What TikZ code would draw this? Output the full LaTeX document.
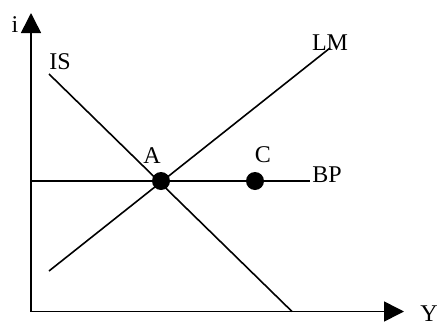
\documentclass[tikz,border=0pt]{standalone}
\usepackage{fontspec}
\setmainfont{Liberation Serif}
\usetikzlibrary{arrows.meta}
\begin{document}
\begin{tikzpicture}[x=1pt,y=-1pt,
  ln/.style={line width=1.6pt},
  axis/.style={line width=1.6pt,-{Triangle[width=20pt,length=20pt]}},
  dot/.style={circle,fill=black,inner sep=0pt,minimum size=18pt},
  lbl/.style={anchor=base,inner sep=0pt,font=\fontsize{24}{26}\selectfont}]
\useasboundingbox (0,0) rectangle (442,327);
% axes
\coordinate (O) at (31,311.5);
\coordinate (ytop) at (31,13);
\coordinate (xend) at (404,311.5);
\draw[axis] (O) -- (ytop);
\draw[axis] (O) -- (xend);
% curves
\coordinate (is1) at (49,74);
\coordinate (is2) at (292,311.5);
\coordinate (lm1) at (49,271);
\coordinate (lm2) at (330,48);
\coordinate (bp1) at (31,181);
\coordinate (bp2) at (310,181);
\draw[ln] (is1) -- (is2);
\draw[ln] (lm1) -- (lm2);
\draw[ln] (bp1) -- (bp2);
% points
\node[dot] (A) at (161,181) {};
\node[dot] (C) at (255,181) {};
% labels
\node[lbl] (li) at (15,32) {i};
\node[lbl] (lY) at (429,321) {Y};
\node[lbl] (lIS) at (60,69) {IS};
\node[lbl] (lLM) at (330,50) {LM};
\node[lbl] (lA) at (152,163) {A};
\node[lbl] (lC) at (263,162) {C};
\node[lbl] (lBP) at (327,182) {BP};
\end{tikzpicture}
\end{document}
